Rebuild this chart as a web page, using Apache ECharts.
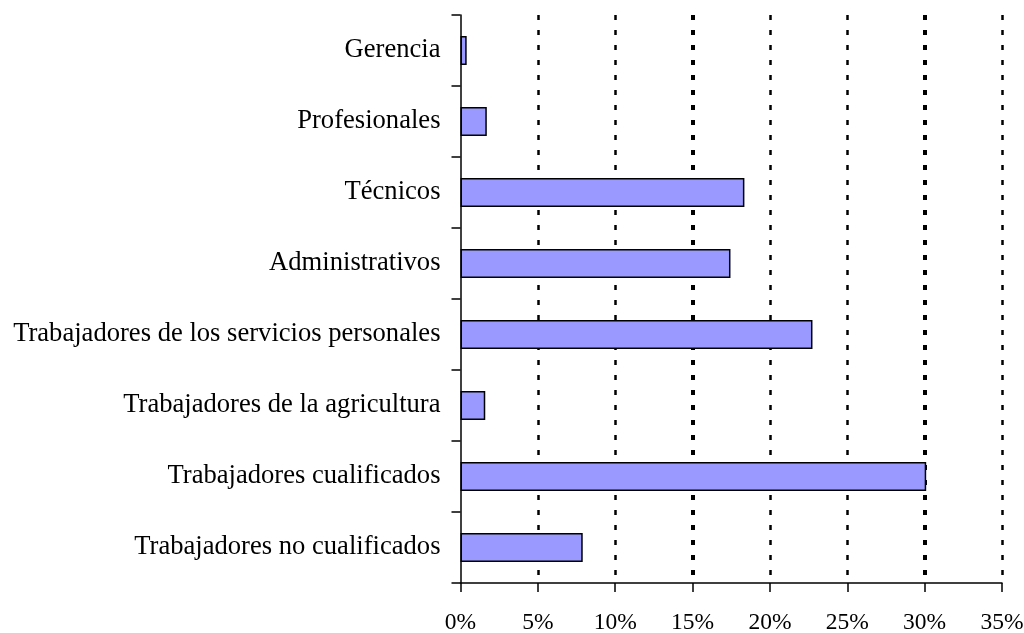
<!DOCTYPE html>
<html>
<head>
<meta charset="utf-8">
<script src="https://cdn.jsdelivr.net/npm/echarts@6/dist/echarts.min.js"></script>
<style>
html,body{margin:0;padding:0;background:#fff;}
#chart{width:1024px;height:633px;}
</style>
</head>
<body>
<div id="chart"></div>
<script>
var categories = [
  'Gerencia',
  'Profesionales',
  'Técnicos',
  'Administrativos',
  'Trabajadores de los servicios personales',
  'Trabajadores de la agricultura',
  'Trabajadores cualificados',
  'Trabajadores no cualificados'
];
var values = [0.4, 1.7, 18.35, 17.45, 22.75, 1.6, 30.1, 7.9];
var xMin = 0, xMax = 35, xStep = 5;

var chart = echarts.init(document.getElementById('chart'), null, {renderer: 'canvas'});
var font = '"Liberation Serif", "Times New Roman", serif';
chart.setOption({
  animation: false,
  grid: {left: 460.5, right: 22, top: 15, bottom: 50, containLabel: false, outerBoundsMode: 'none'},
  xAxis: {
    type: 'value',
    min: xMin, max: xMax, interval: xStep,
    z: 0,
    axisLine: {show: true, lineStyle: {color: '#000', width: 1.5}},
    axisTick: {show: true, inside: false, length: 9, lineStyle: {color: '#000', width: 1.5}},
    axisLabel: {formatter: '{value}%', color: '#000', fontFamily: font, fontSize: 23.5, margin: 28},
    splitLine: {show: true, showMinLine: false, lineStyle: {color: '#000', width: 2.5, type: [5, 10]}}
  },
  yAxis: {
    type: 'category',
    data: categories,
    inverse: true,
    z: 5,
    axisLine: {show: true, onZero: false, lineStyle: {color: '#000', width: 1.5}},
    axisTick: {show: true, length: 9, lineStyle: {color: '#000', width: 1.5}},
    axisLabel: {color: '#000', fontFamily: font, fontSize: 26.6, margin: 20},
    splitLine: {show: false}
  },
  series: [{
    type: 'bar',
    data: values,
    barWidth: 29,
    z: 3,
    itemStyle: {color: '#9999FF', borderColor: '#000', borderWidth: 1.5},
    silent: true
  }, {
    type: 'line',
    data: [],
    z: 0,
    silent: true,
    markLine: {
      silent: true,
      z: 0,
      symbol: 'none',
      animation: false,
      label: {show: false},
      lineStyle: {color: '#000', width: 4, type: [5, 10]},
      data: [{xAxis: 15}, {xAxis: 30}]
    }
  }]
});
</script>
</body>
</html>
